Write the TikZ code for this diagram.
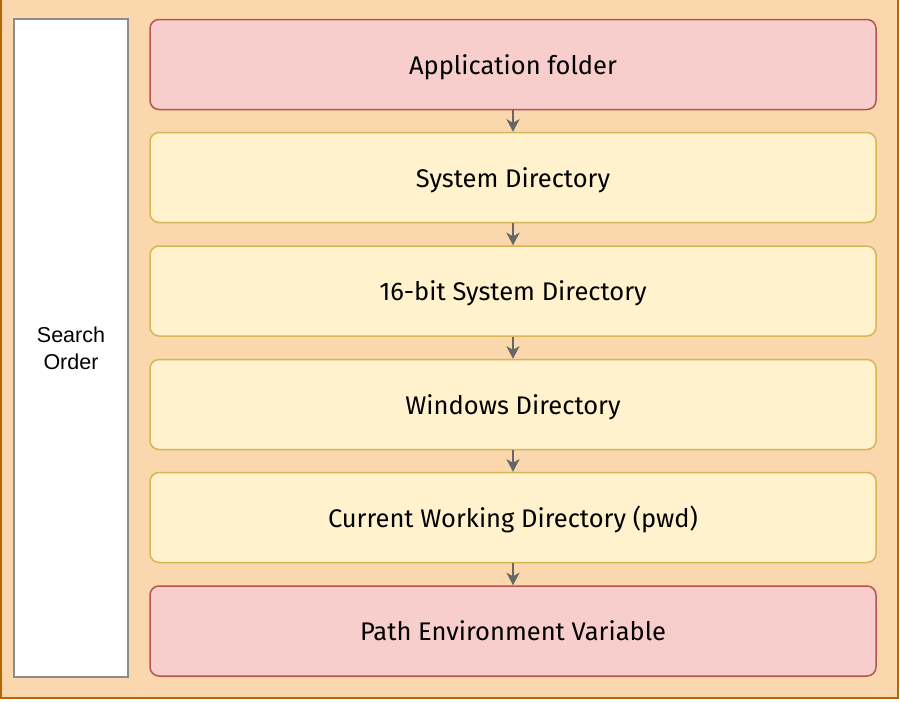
\documentclass[tikz,border=0pt]{standalone}
\usepackage{fontspec}
\setmainfont{Fira Sans}
\newfontfamily\sidefont{Liberation Sans}
\usetikzlibrary{arrows.meta}

\definecolor{bgfill}{HTML}{FAD7AC}
\definecolor{bgline}{HTML}{B46504}
\definecolor{redfill}{HTML}{F8CECC}
\definecolor{redline}{HTML}{B85450}
\definecolor{yelfill}{HTML}{FFF2CC}
\definecolor{yelline}{HTML}{D6B656}
\definecolor{sideline}{HTML}{8C8C8C}
\definecolor{arrowgray}{HTML}{666666}

\tikzset{
  dirbox/.style={draw, rounded corners=9pt, line width=1.5pt,
    minimum width=726pt, minimum height=90pt, inner sep=0pt,
    text height=21pt, text depth=1.4pt,
    font=\fontsize{25.5}{30}\selectfont},
  redbox/.style={dirbox, fill=redfill, draw=redline},
  yelbox/.style={dirbox, fill=yelfill, draw=yelline},
  nextarrow/.style={-{Stealth[length=12.5pt,width=13pt,inset=3.5pt]}, line width=2pt, draw=arrowgray, fill=arrowgray}
}

\begin{document}
\begin{tikzpicture}[x=1pt, y=-1pt]
    \useasboundingbox (0,0) rectangle (900,702);

    % Fond
    \fill[white] (0,0) rectangle (900,702);
    \draw[fill=bgfill, draw=bgline, line width=2pt] (1,-5) rectangle (898,698);

    % Colonne de gauche
    \node[draw=sideline, fill=white, line width=1.5pt, minimum width=114pt,
          minimum height=658pt, inner sep=0pt, align=center,
          font=\sidefont\fontsize{21.5}{27}\selectfont] (order) at (71,348) {Search\\Order};

    % Boites
    \foreach \i/\y/\sty/\txt in {1/64.5/redbox/Application folder,
                                 2/177.5/yelbox/System Directory,
                                 3/291/yelbox/16-bit System Directory,
                                 4/404.5/yelbox/Windows Directory,
                                 5/517.5/yelbox/Current Working Directory (pwd),
                                 6/631/redbox/Path Environment Variable}
        \node[\sty] (b\i) at (513,\y) {\txt};

    % Fleches
    \foreach \i [evaluate=\i as \j using int(\i+1)] in {1,...,5}
        \draw[nextarrow] (b\i.south) -- (b\j.north);
\end{tikzpicture}
\end{document}
